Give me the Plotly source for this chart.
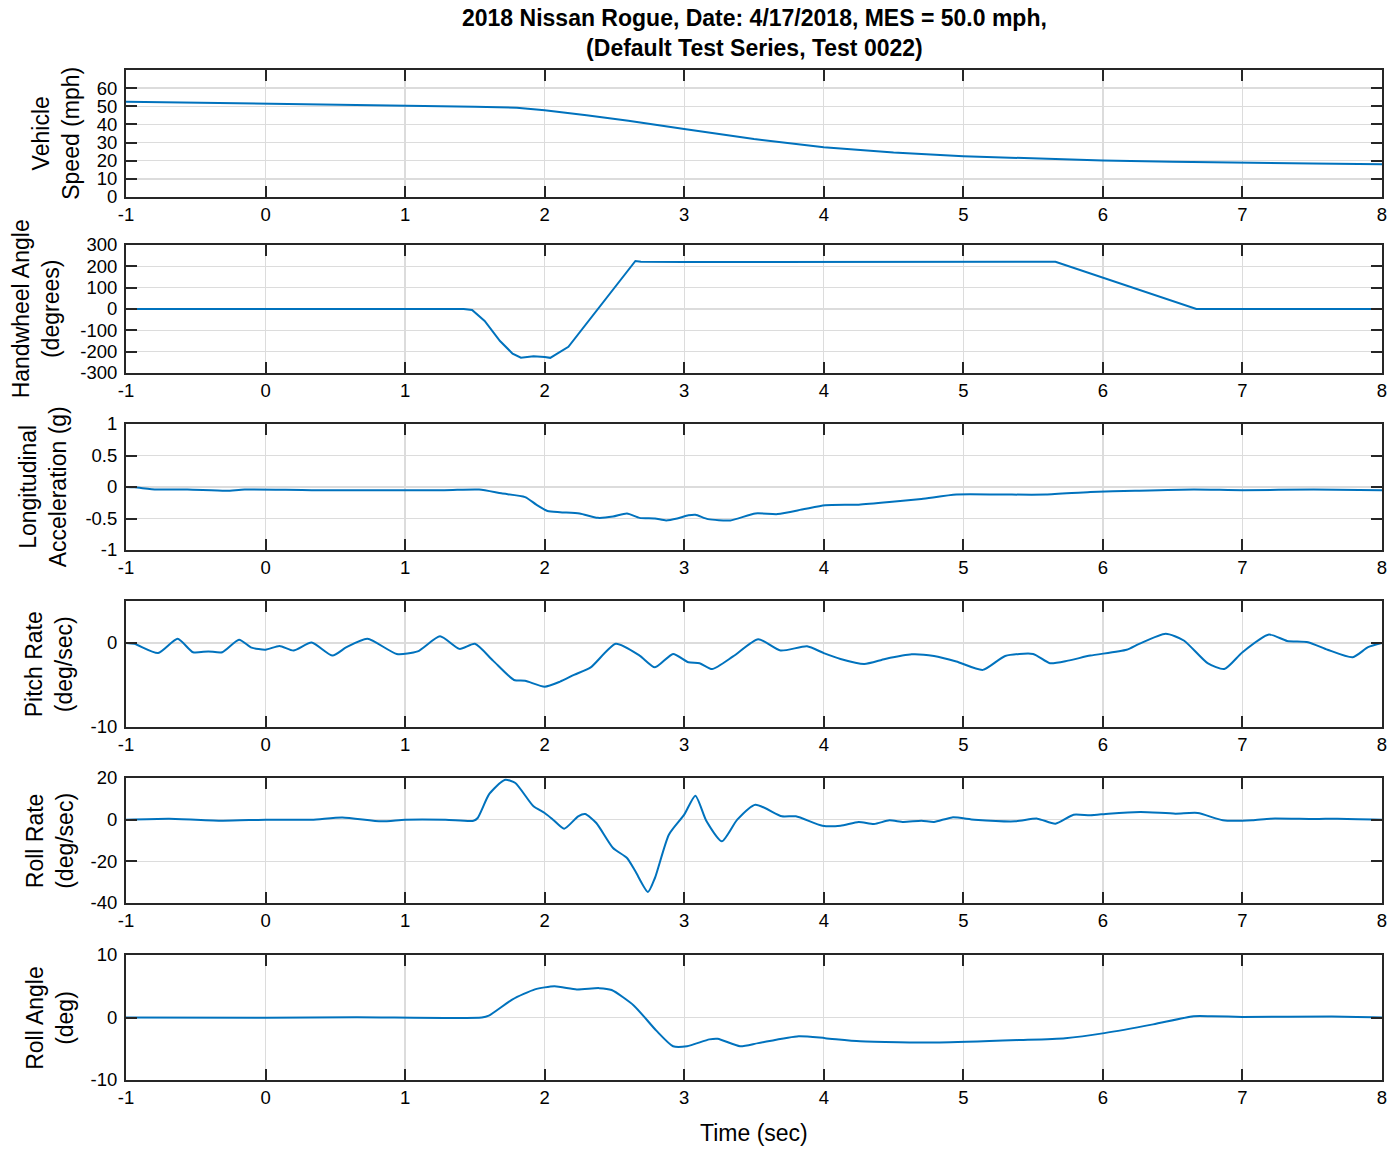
import plotly.graph_objects as go

# ---------------- data ----------------
speed_t = [-1, 0, 1, 1.5, 1.8, 2.0, 2.3, 2.6, 3.0, 3.5, 4.0, 4.5, 5.0, 5.5, 6.0, 6.5, 7.0, 7.5, 8.0]
speed_v = [52.5, 51.5, 50.3, 49.8, 49.2, 47.8, 45.0, 42.0, 37.5, 32.0, 27.4, 24.5, 22.5, 21.2, 20.1, 19.4, 18.8, 18.4, 18.1]

hw_t = [-1, 1.42, 1.48, 1.57, 1.68, 1.77, 1.83, 1.92, 2.0, 2.04, 2.17, 2.65, 2.69, 3.0, 5.66, 6.67, 6.75, 8]
hw_v = [0, 0, -5, -56, -150, -209, -228, -222, -225, -229, -177, 225, 221, 220, 221, 0, 0, 0]

ax_t = [-1, -0.94, -0.78, -0.56, -0.28, -0.15, 0.33, 1.28, 1.53, 1.69, 1.86, 1.94, 2.02, 2.11, 2.25, 2.38,
        2.49, 2.59, 2.68, 2.79, 2.87, 2.95, 3.03, 3.08, 3.17, 3.33, 3.51, 3.67, 3.86, 4.01, 4.25, 4.47,
        4.70, 4.95, 5.27, 5.59, 5.91, 6.23, 6.65, 7.0, 7.51, 8.0]
ax_v = [0.0, -0.005, -0.04, -0.04, -0.06, -0.04, -0.05, -0.05, -0.04, -0.10, -0.16, -0.28, -0.38, -0.40,
        -0.42, -0.49, -0.47, -0.42, -0.49, -0.50, -0.53, -0.50, -0.45, -0.44, -0.51, -0.53, -0.42, -0.43,
        -0.35, -0.29, -0.28, -0.24, -0.19, -0.12, -0.12, -0.12, -0.08, -0.06, -0.04, -0.05, -0.04, -0.05]

pitch_t = [-1, -0.94, -0.77, -0.63, -0.52, -0.41, -0.31, -0.19, -0.10, 0, 0.10, 0.2, 0.33, 0.48, 0.58,
           0.73, 0.94, 1.09, 1.25, 1.39, 1.5, 1.63, 1.78, 1.86, 2.0, 2.11, 2.21, 2.33, 2.51, 2.68, 2.79,
           2.92, 3.03, 3.11, 3.2, 3.35, 3.53, 3.69, 3.88, 4.0, 4.12, 4.29, 4.44, 4.63, 4.79, 4.95, 5.14,
           5.30, 5.50, 5.62, 5.75, 5.91, 6.17, 6.26, 6.45, 6.58, 6.75, 6.87, 7.0, 7.19, 7.32, 7.47, 7.61,
           7.79, 7.9, 8.0]
pitch_v = [0, -0.1, -1.2, 0.5, -1.1, -1.0, -1.1, 0.4, -0.55, -0.8, -0.35, -0.9, 0.05, -1.5, -0.5,
           0.5, -1.3, -1.0, 0.8, -0.7, -0.1, -2.1, -4.4, -4.5, -5.2, -4.6, -3.8, -2.9, -0.1, -1.5, -2.9,
           -1.3, -2.3, -2.4, -3.1, -1.6, 0.45, -0.9, -0.4, -1.2, -1.9, -2.5, -1.9, -1.35, -1.55, -2.2, -3.2,
           -1.55, -1.3, -2.4, -2.1, -1.5, -0.8, -0.1, 1.1, 0.3, -2.4, -3.1, -1.1, 1.0, 0.25, 0.1, -0.8,
           -1.7, -0.5, 0]

rr_t = [-1, -0.69, -0.31, 0, 0.33, 0.55, 0.83, 1.0, 1.29, 1.49, 1.52, 1.6, 1.68, 1.72, 1.79, 1.92, 2.0,
        2.06, 2.14, 2.24, 2.29, 2.37, 2.49, 2.59, 2.65, 2.74, 2.79, 2.89, 3.0, 3.08, 3.16, 3.27, 3.38,
        3.51, 3.70, 3.80, 3.99, 4.12, 4.25, 4.36, 4.47, 4.57, 4.70, 4.79, 4.92, 5.08, 5.37, 5.53, 5.66,
        5.79, 5.91, 6.04, 6.27, 6.52, 6.68, 6.86, 7.07, 7.2, 7.52, 7.68, 8.0]
rr_v = [0, 0.5, -0.5, 0, 0, 1.1, -0.8, 0, 0, -0.5, 0.8, 12, 17.6, 19.2, 17.6, 6.4, 3.2,
        0, -4.3, 1.6, 2.7, -1.6, -13.6, -18.4, -24.8, -34.7, -28, -7.2, 2.4, 11.5, -0.8, -10.4, 0,
        7.2, 1.6, 1.6, -2.9, -2.9, -1.1, -2.1, -0.3, -1.1, -0.5, -1.1, 1.1, 0, -0.8, 0.5, -1.9,
        2.4, 2.1, 2.9, 3.7, 2.9, 3.2, -0.3, -0.3, 0.5, 0.3, 0.5, 0]

ra_t = [-1, 0, 0.65, 1.55, 1.6, 1.77, 1.93, 2.07, 2.23, 2.39, 2.48, 2.64, 2.8, 2.92, 3.02, 3.18, 3.24,
        3.4, 3.53, 3.82, 4.01, 4.26, 4.83, 5.41, 5.73, 6.01, 6.36, 6.65, 6.78, 7.0, 7.64, 8.0]
ra_v = [0, -0.05, 0.05, 0, 0.3, 2.9, 4.5, 5.0, 4.5, 4.7, 4.4, 1.9, -2.1, -4.6, -4.6, -3.5, -3.4,
        -4.6, -4.1, -3.0, -3.3, -3.8, -4.0, -3.6, -3.3, -2.5, -1.1, 0.2, 0.2, 0.1, 0.15, 0]

series = [
    (speed_t, speed_v, "linear"),
    (hw_t, hw_v, "linear"),
    (ax_t, ax_v, "spline"),
    (pitch_t, pitch_v, "spline"),
    (rr_t, rr_v, "spline"),
    (ra_t, ra_v, "spline"),
]

x_ticks = [-1, 0, 1, 2, 3, 4, 5, 6, 7, 8]
y_ranges = [[0, 70], [-300, 300], [-1, 1], [-10, 5], [-40, 20], [-10, 10]]
y_ticks = [
    [0, 10, 20, 30, 40, 50, 60],
    [-300, -200, -100, 0, 100, 200, 300],
    [-1, -0.5, 0, 0.5, 1],
    [-10, 0],
    [-40, -20, 0, 20],
    [-10, 0, 10],
]
y_tick_text = [
    ["0", "10", "20", "30", "40", "50", "60"],
    ["-300", "-200", "-100", "0", "100", "200", "300"],
    ["-1", "-0.5", "0", "0.5", "1"],
    ["-10", "0"],
    ["-40", "-20", "0", "20"],
    ["-10", "0", "10"],
]
y_labels = [
    "Vehicle<br>Speed (mph)",
    "Handwheel Angle<br>(degrees)",
    "Longitudinal<br>Acceleration (g)",
    "Pitch Rate<br>(deg/sec)",
    "Roll Rate<br>(deg/sec)",
    "Roll Angle<br>(deg)",
]
title_text = "<b>2018 Nissan Rogue, Date: 4/17/2018, MES = 50.0 mph,<br>(Default Test Series, Test 0022)</b>"
x_label = "Time (sec)"

# ---------------- layout (pixel geometry) ----------------
W, H = 1397, 1150
L, R, T, B = 126, 1387, 70, 1080
panels_px = [(70, 197), (245, 373), (424, 550), (601, 727), (778, 903), (955, 1080)]
label_x_px = [56, 36, 43, 49, 49, 49]


def fy(py):
    return (B - py) / (B - T)


def fx(px):
    return (px - L) / (R - L)


FONT = "Liberation Sans, Arial, sans-serif"
LINE_COLOR = "#0072BD"

fig = go.Figure()
annotations = []
layout = dict(
    width=W, height=H,
    margin=dict(l=L, r=W - R, t=T, b=H - B, pad=0),
    paper_bgcolor="white", plot_bgcolor="white",
    showlegend=False,
    font=dict(family=FONT, size=18, color="black"),
)

for i, ((t, v, shape), (ptop, pbot)) in enumerate(zip(series, panels_px)):
    n = i + 1
    xa = "x" if n == 1 else f"x{n}"
    ya = "y" if n == 1 else f"y{n}"
    fig.add_trace(go.Scatter(
        x=t, y=v, mode="lines", xaxis=xa, yaxis=ya,
        line=dict(color=LINE_COLOR, width=2, shape=shape, smoothing=0.6 if shape == "spline" else None),
        hoverinfo="skip",
    ))
    common = dict(
        showline=True, linecolor="#262626", linewidth=2, mirror="ticks",
        ticks="inside", ticklen=11, tickwidth=2, tickcolor="#262626",
        showgrid=True, gridcolor="#dcdcdc", gridwidth=1.3,
        zeroline=False, tickfont=dict(family=FONT, size=18.5, color="black"),
    )
    layout["xaxis" if n == 1 else f"xaxis{n}"] = dict(
        common, domain=[0, 1], range=[-1, 8], tickvals=x_ticks,
        ticktext=[str(k) for k in x_ticks], anchor=ya,
        **({} if n == 1 else dict(matches="x")),
    )
    layout["yaxis" if n == 1 else f"yaxis{n}"] = dict(
        common, domain=[fy(pbot), fy(ptop)], range=y_ranges[i],
        tickvals=y_ticks[i], ticktext=y_tick_text[i], anchor=xa,
        ticklabelstandoff=3,
    )
    annotations.append(dict(
        text=y_labels[i], xref="paper", yref="paper",
        x=fx(label_x_px[i]), y=fy((ptop + pbot) / 2),
        xanchor="center", yanchor="middle", textangle=-90, showarrow=False,
        font=dict(family=FONT, size=23, color="black"),
    ))

annotations.append(dict(
    text=title_text, xref="paper", yref="paper", x=0.5, y=fy(33),
    xanchor="center", yanchor="middle", showarrow=False,
    font=dict(family=FONT, size=23, color="black"),
))
annotations.append(dict(
    text=x_label, xref="paper", yref="paper", x=fx(757), y=fy(1133),
    xanchor="center", yanchor="middle", showarrow=False,
    font=dict(family=FONT, size=23, color="black"),
))
layout["annotations"] = annotations
fig.update_layout(**layout)
fig.write_html(
    "out.html",
    config={"displayModeBar": False, "staticPlot": True},
    post_script="document.body.style.margin='0';document.body.style.overflow='hidden';",
)
